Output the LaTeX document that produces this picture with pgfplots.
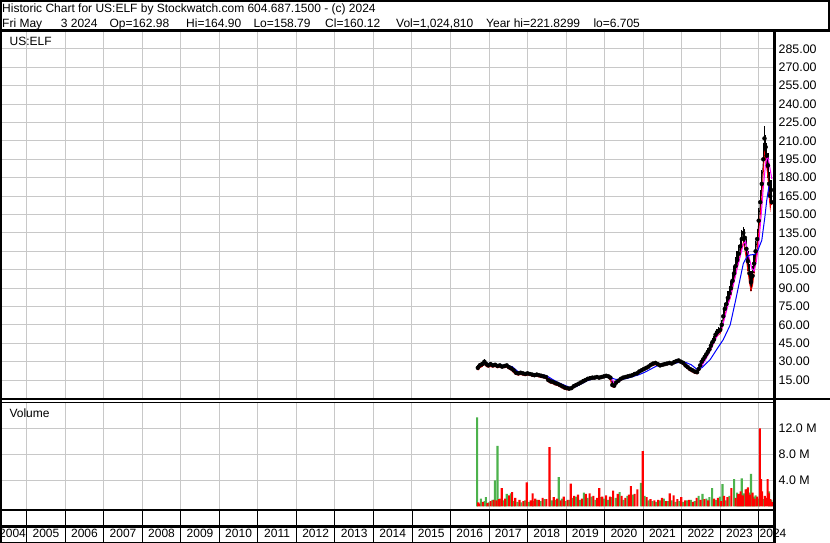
\documentclass[border=0pt]{standalone}
\usepackage{fontspec}
\setmainfont{Liberation Sans}
\usepackage{pgfplots}
\usepackage{pgfplotstable}
\pgfplotsset{compat=1.18}
\definecolor{gridc}{RGB}{200,200,200}
\definecolor{volgreen}{RGB}{76,178,76}
\definecolor{mag}{RGB}{255,0,255}

\pgfplotstableread{
x c hi lo
2016.71 25 27 23
2016.76 27 29 25
2016.82 28 30 26
2016.88 30 32 28
2016.93 28 30 26
2016.98 27 29 25.5
2017.04 28 29.5 26
2017.10 27 28.5 25.5
2017.16 27.5 29 26
2017.22 26.5 28 25
2017.28 27 28.5 25.5
2017.34 26 27.5 25
2017.40 26.5 28 25
2017.46 27 28.5 25.5
2017.52 25.5 27 24
2017.58 24.5 26 23
2017.64 23 24.5 21
2017.70 21 22.5 19.5
2017.76 20.5 22 19
2017.82 21 22.5 19.5
2017.88 20.5 22 19
2017.94 20 21.5 18.5
2018.00 20.5 22 19
2018.06 20 21.5 19
2018.12 19.5 21 18
2018.18 19 20.5 18
2018.24 19.5 21 18
2018.30 19 20 17.5
2018.36 18.5 20 17
2018.42 18 19.5 17
2018.48 17.5 19 16
2018.54 15 16.5 13.5
2018.60 14 15.5 12.5
2018.66 13.5 15 12
2018.72 12.5 14 11
2018.78 12 13.5 10.5
2018.84 11 12.5 9.5
2018.90 10 11.5 8.5
2018.96 9 10.5 7.5
2019.02 8.5 10 7
2019.08 8 9.5 7
2019.14 8.5 10 7.5
2019.20 10 11.5 9
2019.26 11 12.5 10
2019.32 12 13.5 11
2019.38 13 14.5 12
2019.44 14 15.5 13
2019.50 15 16.5 14
2019.56 16 17.5 15
2019.62 16.5 18 15.5
2019.68 17 18.5 16
2019.74 17 18.5 16
2019.80 17.5 19 16.5
2019.86 17 18.5 16
2019.92 17.5 19 16.5
2019.98 18 19.5 17
2020.04 18.5 20 17.5
2020.10 18 19.5 17
2020.15 17 18.5 15
2020.20 11 14 9.5
2020.25 10.5 12 9
2020.30 13 14.5 11.5
2020.36 14.5 16 13.5
2020.42 16 17.5 15
2020.48 17 18.5 16
2020.54 17.5 19 16.5
2020.60 18 19.5 17
2020.66 18.5 20 17.5
2020.72 19 20.5 18
2020.78 20 21.5 19
2020.84 20.5 22 19.5
2020.90 22 23.5 21
2020.96 23 24.5 22
2021.02 24 25.5 23
2021.08 25 26.5 24
2021.14 26 27.5 25
2021.20 27.5 29 26.5
2021.26 28.5 30 27
2021.32 29 30.5 27.5
2021.38 28 29.5 27
2021.44 27 28.5 26
2021.50 27.5 29 26.5
2021.56 28 29.5 27
2021.62 28.5 30 27.5
2021.68 29 30.5 28
2021.74 28.5 30 27.5
2021.80 29.5 31 28.5
2021.86 30.5 32 29.5
2021.92 31 32.5 30
2021.98 30 31.5 29
2022.04 29 30.5 27.5
2022.10 27 28.5 25.5
2022.16 25.5 27 24
2022.22 24 25.5 22.5
2022.28 23 24.5 21.5
2022.34 22 23.5 20.5
2022.40 21.5 23 20
2022.44 24 26 22.5
2022.48 27 29 25.5
2022.52 30 32 28
2022.56 32 34 30
2022.60 34 36.5 32
2022.64 36 38.5 34
2022.68 38 41 36
2022.72 40 43 38
2022.76 43 46 40.5
2022.80 46 49 43.5
2022.84 48 51 45.5
2022.88 52 55 49
2022.92 54 57 51
2022.96 55 58 52
2023.00 56 60 53
2023.04 60 64 56
2023.08 67 72 62
2023.12 73 78 68
2023.16 77 82 72
2023.20 82 88 77
2023.24 86 92 80
2023.28 90 96 84
2023.32 96 102 90
2023.36 102 108 96
2023.40 108 115 101
2023.44 113 120 107
2023.48 118 125 111
2023.52 124 131 117
2023.56 130 137 123
2023.60 135 140 127
2023.64 131 138 122
2023.68 122 130 113
2023.72 112 120 104
2023.76 102 110 94
2023.80 95 104 88
2023.84 100 108 92
2023.88 110 118 102
2023.92 120 128 112
2023.96 130 138 122
2024.00 145 155 135
2024.04 160 170 150
2024.08 175 186 165
2024.12 195 208 185
2024.15 212 222 200
2024.18 205 215 195
2024.21 198 208 188
2024.24 190 200 180
2024.27 175 185 165
2024.30 165 175 155
2024.32 170 178 160
2024.34 160 165 158
}\pricedata

\pgfplotstableread{
x m
2016.75 27
2016.85 28.5
2016.95 28.5
2017.10 27.5
2017.30 27
2017.50 26.5
2017.60 25
2017.70 22.5
2017.80 21
2018.00 20.5
2018.20 19.5
2018.40 18.5
2018.50 17.5
2018.60 15.5
2018.70 13.5
2018.80 12.3
2018.90 11
2019.00 9.5
2019.10 8.5
2019.20 9.5
2019.30 11
2019.40 12.8
2019.50 14.5
2019.60 16
2019.70 16.8
2019.80 17.2
2019.90 17.5
2020.00 18
2020.10 18.2
2020.18 16
2020.24 13
2020.30 12.5
2020.40 14.5
2020.50 16.5
2020.60 17.7
2020.70 18.7
2020.80 19.8
2020.90 21.5
2021.00 23.3
2021.10 25
2021.20 26.8
2021.30 28.3
2021.40 28.3
2021.50 27.6
2021.60 28.2
2021.70 28.8
2021.80 29.2
2021.90 30.3
2022.00 30.3
2022.10 28.5
2022.20 25.5
2022.30 23.5
2022.40 22
2022.48 24
2022.56 28.5
2022.64 33
2022.72 38
2022.80 43
2022.88 48.5
2022.96 53
2023.04 57
2023.12 66
2023.20 76
2023.28 85
2023.36 95
2023.44 106
2023.52 116
2023.60 126
2023.66 128
2023.72 119
2023.82 106
2023.88 104
2023.94 112
2024.00 126
2024.06 148
2024.12 172
2024.18 192
2024.23 198
2024.28 190
2024.34 179
}\magdata

\pgfplotstableread{
x b
2016.85 29
2017.00 28.5
2017.20 27.5
2017.45 26.8
2017.60 26
2017.75 22
2017.90 20.5
2018.10 20
2018.30 19.5
2018.45 19
2018.55 17.5
2018.65 15.5
2018.80 13
2018.95 11
2019.10 9
2019.25 9.5
2019.40 12
2019.55 14.5
2019.70 16
2019.85 16.8
2020.00 17.3
2020.15 17
2020.30 15.5
2020.45 15.5
2020.60 16.5
2020.75 18
2020.90 19.5
2021.05 21.5
2021.20 24
2021.35 26.5
2021.50 27.5
2021.65 28
2021.80 28.5
2021.95 29.5
2022.10 29.5
2022.25 27.5
2022.39 24
2022.52 25
2022.74 31.7
2022.91 40
2023.08 48
2023.26 60
2023.40 80
2023.50 95
2023.60 110
2023.70 116
2023.78 117
2023.90 117.5
2023.98 121
2024.08 129
2024.16 148
2024.21 162
2024.27 174
2024.32 176
}\bluedata

\pgfplotstableread{
x v
2016.69 13.7
2016.79 1.2
2016.89 0.8
2016.92 1.4
2016.99 0.6
2017.09 1.0
2017.15 4.0
2017.22 9.3
2017.29 1.2
2017.39 0.9
2017.46 1.9
2017.57 2.0
2017.64 0.8
2017.74 0.7
2017.84 0.6
2017.94 0.9
2018.04 0.7
2018.14 0.8
2018.24 1.0
2018.34 0.8
2018.44 1.1
2018.58 2.5
2018.64 0.9
2018.74 1.0
2018.81 4.5
2018.89 1.2
2018.99 0.8
2019.09 1.0
2019.16 1.3
2019.26 1.5
2019.36 1.0
2019.46 2.1
2019.56 1.3
2019.66 1.5
2019.76 1.0
2019.89 1.4
2019.99 1.2
2020.09 1.0
2020.19 1.4
2020.29 1.3
2020.39 2.2
2020.49 1.0
2020.59 1.6
2020.73 1.8
2020.94 3.6
2021.04 1.6
2021.14 0.9
2021.24 0.8
2021.34 0.7
2021.44 0.9
2021.54 1.2
2021.64 0.8
2021.74 0.9
2021.84 0.7
2021.94 0.8
2022.04 0.7
2022.14 0.9
2022.24 1.0
2022.34 0.8
2022.44 1.6
2022.54 1.9
2022.64 1.2
2022.72 1.4
2022.79 2.8
2022.89 1.0
2022.99 1.5
2023.06 3.4
2023.14 0.9
2023.24 1.6
2023.36 4.2
2023.44 2.1
2023.50 1.8
2023.56 4.3
2023.62 2.0
2023.69 2.7
2023.75 2.1
2023.80 5.0
2023.86 1.5
2023.92 1.7
2024.00 1.2
2024.13 1.1
2024.27 2.3
2024.33 1.0
}\greenvol

\pgfplotstableread{
x v
2016.72 0.6
2016.75 0.4
2016.84 0.7
2016.96 0.5
2017.04 0.8
2017.12 1.0
2017.19 0.9
2017.26 1.1
2017.33 2.8
2017.42 1.2
2017.52 1.7
2017.60 2.2
2017.68 1.3
2017.79 1.0
2017.89 0.8
2017.98 3.7
2018.08 0.9
2018.13 2.0
2018.20 1.2
2018.29 1.0
2018.39 1.3
2018.49 1.1
2018.57 9.1
2018.68 1.4
2018.77 1.2
2018.86 0.9
2018.94 1.5
2019.04 1.0
2019.12 3.5
2019.21 1.6
2019.31 1.8
2019.41 1.2
2019.51 1.9
2019.61 2.0
2019.71 1.6
2019.81 1.3
2019.86 2.8
2019.94 1.5
2020.04 1.7
2020.14 1.5
2020.22 2.4
2020.34 1.9
2020.44 1.6
2020.54 1.3
2020.63 1.8
2020.68 3.1
2020.78 1.9
2020.85 2.6
2020.99 8.5
2021.09 1.4
2021.19 1.1
2021.29 0.9
2021.39 1.0
2021.49 1.3
2021.59 0.8
2021.69 2.0
2021.79 1.7
2021.89 1.1
2021.99 1.4
2022.09 0.9
2022.19 1.0
2022.29 0.7
2022.39 1.3
2022.49 1.0
2022.59 1.1
2022.69 0.9
2022.84 1.2
2022.94 1.3
2023.02 0.8
2023.10 1.6
2023.19 1.4
2023.29 2.8
2023.40 1.3
2023.47 1.9
2023.53 2.3
2023.59 1.7
2023.66 2.6
2023.72 2.9
2023.77 1.8
2023.84 2.1
2023.89 1.2
2023.96 1.5
2024.03 12.0
2024.06 4.2
2024.09 2.3
2024.16 1.6
2024.20 1.3
2024.23 4.2
2024.26 2.0
2024.30 1.1
2024.34 0.7
}\redvol

\pgfplotsset{
  swstyle/.style={
    scale only axis,
    anchor=south west,
    width=773pt,
    xmin=2004.346, xmax=2024.41,
    xtick={2005,2006,2007,2008,2009,2010,2011,2012,2013,2014,2015,2016,2017,2018,2019,2020,2021,2022,2023,2024},
    xticklabels={},
    axis line style={draw=none},
    tick style={draw=none},
    grid=major,
    grid style={gridc, line width=1pt},
    yticklabel pos=right,
    /pgf/number format/assume math mode=true,
    ticklabel style={font=\fontsize{12.4}{14}\selectfont, text=black},
  }
}

\begin{document}
\fontsize{12}{14}\selectfont
\begin{tikzpicture}[x=1pt,y=1pt]
\useasboundingbox (0,0) rectangle (830,-543);

% price panel
\begin{axis}[swstyle,
  at={(1.5pt,-398.5pt)}, height=368pt,
  ymin=0, ymax=300,
  ytick={15,30,...,285},
  y tick label style={/pgf/number format/.cd, fixed, fixed zerofill, precision=2, /tikz/.cd},
]
\addplot[only marks, mark=none, error bars/.cd, y dir=both, y explicit, error mark=none,
  error bar style={black, line width=1.3pt}]
  table[x=x, y=c, y error plus expr=\thisrow{hi}-\thisrow{c}, y error minus expr=\thisrow{c}-\thisrow{lo}] {\pricedata};
\addplot[black, line width=0.6pt] table[x=x, y=c] {\pricedata};
\addplot[red, line width=0.8pt] table[x=x, y=lo] {\pricedata};
\addplot[mag, line width=1pt] table[x=x, y=m] {\magdata};
\addplot[blue, line width=1pt] table[x=x, y=b] {\bluedata};
\end{axis}

% volume panel
\begin{axis}[swstyle,
  at={(1.5pt,-509.5pt)}, height=107.5pt,
  ymin=-0.49, ymax=16.05,
  ytick={4,8,12}, yticklabels={4.0 M,8.0 M,12.0 M},
]
\addplot[ybar, bar shift=0pt, bar width=2.1pt, fill=volgreen, draw=none] table[x=x, y=v] {\greenvol};
\addplot[ybar, bar shift=0pt, bar width=2.1pt, fill=red, draw=none] table[x=x, y=v] {\redvol};
\end{axis}

% year strip
\begin{axis}[swstyle,
  at={(1.5pt,-541.5pt)}, height=32pt,
  ymin=0, ymax=1, ytick=\empty, ymajorgrids=false,
  grid style={black, line width=0.9pt},
  clip=false,
]
\pgfplotsinvokeforeach{2005,2006,2007,2008,2009,2010,2011,2012,2013,2014,2015,2016,2017,2018,2019,2020,2021,2022,2023}{
  \node[inner sep=0pt] at (axis cs:#1.5,0.24) {#1};
}
\node[inner sep=0pt, anchor=east] at (axis cs:2004.985,0.24) {2004};
\node[inner sep=0pt, anchor=west] at (axis cs:2024.02,0.24) {2024};
\end{axis}

% frames
\draw[line width=2pt] (1,0) -- (1,-543);
\draw[line width=2pt] (0,-1) -- (829,-1);
\draw[line width=2pt] (828.5,0) -- (828.5,-31);
\draw[line width=2.5pt] (0,-30.5) -- (830,-30.5);
\draw[line width=2.5pt] (774.5,-30.5) -- (774.5,-543);
\draw[line width=1.5pt] (0,-399) -- (830,-399);
\draw[line width=1pt] (0,-402.3) -- (774.5,-402.3);
\draw[line width=2.2pt] (0,-510) -- (774.5,-510);
\draw[line width=2.2pt] (0,-526.5) -- (774.5,-526.5);
\draw[line width=1pt] (0,-542) -- (774.5,-542);

% texts
\node[anchor=base west, inner sep=0pt] at (2,-12.7) {Historic Chart for US:ELF by Stockwatch.com 604.687.1500 - (c) 2024};
\node[anchor=base west, inner sep=0pt] at (2,-27.5) {Fri May};
\node[anchor=base west, inner sep=0pt] at (60.7,-27.5) {3 2024};
\node[anchor=base west, inner sep=0pt] at (109.3,-27.5) {Op=162.98};
\node[anchor=base west, inner sep=0pt] at (186,-27.5) {Hi=164.90};
\node[anchor=base west, inner sep=0pt] at (253.3,-27.5) {Lo=158.79};
\node[anchor=base west, inner sep=0pt] at (325,-27.5) {Cl=160.12};
\node[anchor=base west, inner sep=0pt] at (396,-27.5) {Vol=1,024,810};
\node[anchor=base west, inner sep=0pt] at (486,-27.5) {Year hi=221.8299};
\node[anchor=base west, inner sep=0pt] at (593.3,-27.5) {lo=6.705};
\node[anchor=west, inner sep=0pt] at (9.5,-41.7) {US:ELF};
\node[anchor=west, inner sep=0pt] at (9.3,-413) {Volume};
\end{tikzpicture}
\end{document}
